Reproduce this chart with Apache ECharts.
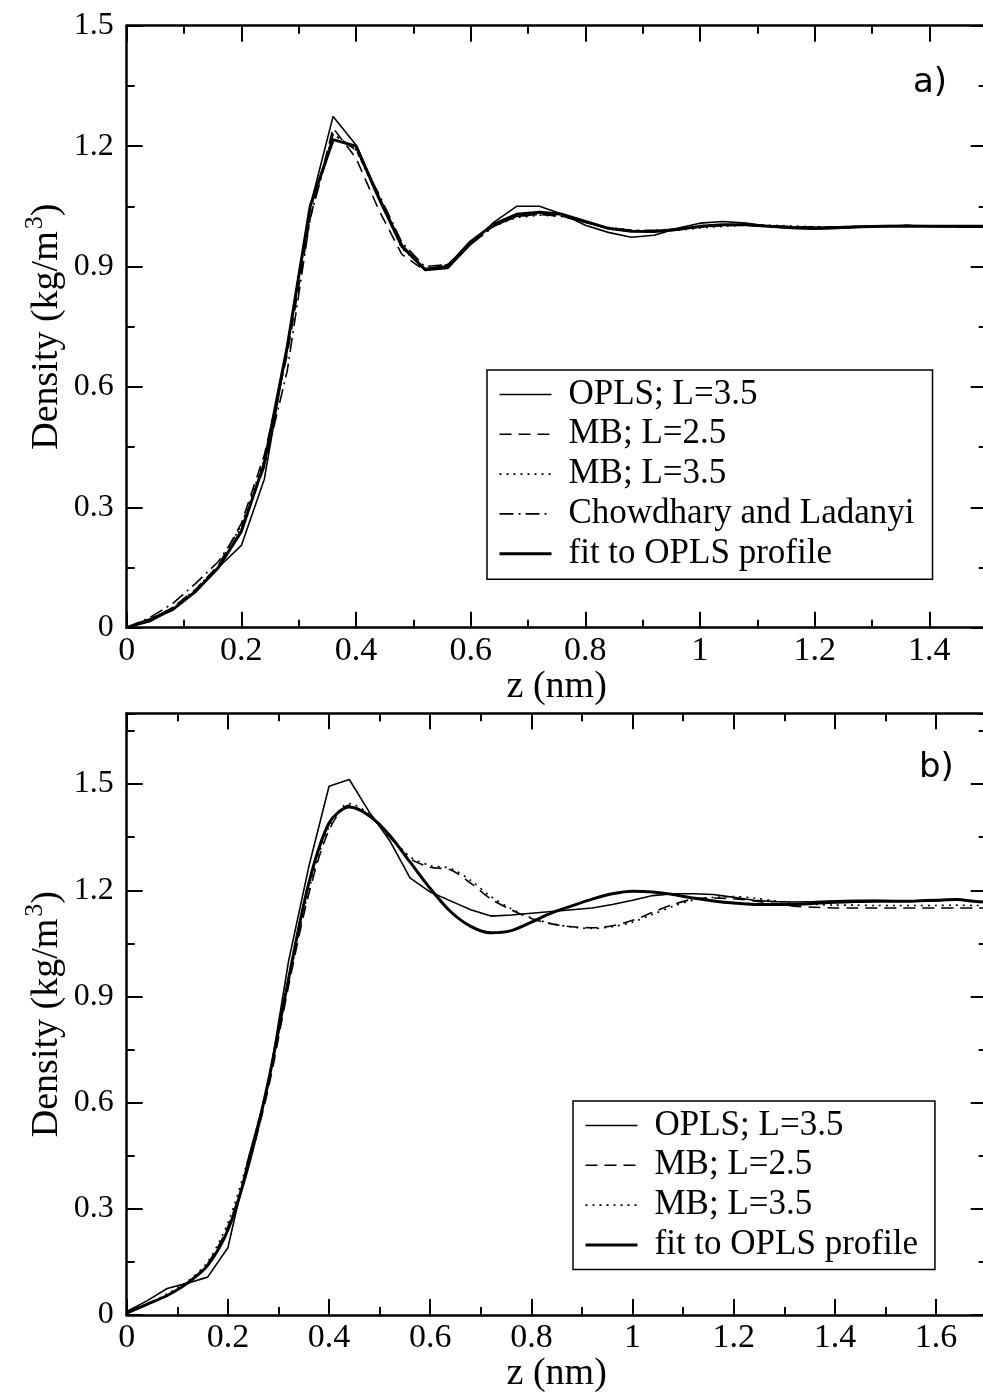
<!DOCTYPE html>
<html>
<head>
<meta charset="utf-8">
<script src="https://cdn.jsdelivr.net/npm/echarts@6/dist/echarts.min.js"></script>
<style>
html,body{margin:0;padding:0;background:#fff;overflow:hidden;}
#c{width:990px;height:1394px;}
</style>
</head>
<body>
<div id="c"></div>
<script>
// ---------- data ----------
const seriesNames = ['OPLS; L=3.5', 'MB; L=2.5', 'MB; L=3.5', 'Chowdhary and Ladanyi', 'fit to OPLS profile'];

// panel a)
const zTop = [0, 0.04, 0.08, 0.12, 0.16, 0.20, 0.24, 0.28, 0.32, 0.36, 0.40, 0.44, 0.48, 0.52, 0.56, 0.60, 0.64, 0.68, 0.72, 0.76, 0.80, 0.84, 0.88, 0.92, 0.96, 1.00, 1.04, 1.08, 1.12, 1.16, 1.20, 1.24, 1.28, 1.32, 1.36, 1.40, 1.44, 1.48, 1.52];
const oplsTop = [0, 0.015, 0.045, 0.09, 0.15, 0.205, 0.37, 0.70, 1.05, 1.274, 1.203, 1.075, 0.955, 0.89, 0.895, 0.955, 1.01, 1.05, 1.05, 1.03, 1.003, 0.985, 0.973, 0.978, 0.995, 1.008, 1.012, 1.008, 1.0, 0.995, 0.993, 0.995, 0.998, 1.0, 1.002, 1.0, 0.999, 0.998, 0.998];
const mb25Top = [0, 0.02, 0.05, 0.095, 0.155, 0.26, 0.43, 0.68, 1.02, 1.245, 1.17, 1.04, 0.93, 0.89, 0.905, 0.96, 1.0, 1.025, 1.03, 1.025, 1.01, 0.995, 0.988, 0.988, 0.993, 0.998, 1.002, 1.003, 1.0, 0.998, 0.997, 0.998, 1.0, 1.0, 1.002, 1.001, 1.0, 1.0, 1.0];
const mb35Top = [0, 0.02, 0.05, 0.095, 0.155, 0.255, 0.42, 0.69, 1.04, 1.23, 1.19, 1.07, 0.945, 0.893, 0.9, 0.955, 1.0, 1.022, 1.028, 1.025, 1.012, 0.998, 0.99, 0.988, 0.99, 0.996, 1.0, 1.003, 1.003, 1.001, 0.999, 0.998, 0.999, 1.0, 1.001, 1.001, 1.0, 1.0, 1.0];
const clTop = [0, 0.025, 0.06, 0.11, 0.165, 0.25, 0.40, 0.64, 1.02, 1.23, 1.19, 1.08, 0.96, 0.9, 0.905, 0.955, 1.0, 1.025, 1.03, 1.025, 1.01, 0.997, 0.99, 0.99, 0.994, 0.999, 1.003, 1.003, 1.001, 0.999, 0.998, 0.999, 1.0, 1.001, 1.002, 1.0, 1.0, 0.999, 0.999];
const fitTop = [0, 0.02, 0.045, 0.09, 0.15, 0.24, 0.41, 0.70, 1.05, 1.216, 1.2, 1.07, 0.95, 0.893, 0.9, 0.962, 1.005, 1.03, 1.035, 1.03, 1.012, 0.995, 0.988, 0.987, 0.992, 1.0, 1.004, 1.004, 1.0, 0.997, 0.996, 0.997, 0.999, 1.0, 1.001, 1.0, 1.0, 1.0, 1.0];

// panel b)
const zBot = [0, 0.04, 0.08, 0.12, 0.16, 0.20, 0.24, 0.28, 0.32, 0.36, 0.40, 0.44, 0.48, 0.52, 0.56, 0.60, 0.64, 0.68, 0.72, 0.76, 0.80, 0.84, 0.88, 0.92, 0.96, 1.00, 1.04, 1.08, 1.12, 1.16, 1.20, 1.24, 1.28, 1.32, 1.36, 1.40, 1.44, 1.48, 1.52, 1.56, 1.60, 1.64, 1.68, 1.72];
const oplsBot = [0.01, 0.04, 0.075, 0.09, 0.107, 0.19, 0.44, 0.65, 1.0, 1.267, 1.494, 1.513, 1.42, 1.34, 1.235, 1.195, 1.17, 1.145, 1.127, 1.13, 1.135, 1.14, 1.145, 1.15, 1.16, 1.172, 1.185, 1.19, 1.19, 1.188, 1.18, 1.172, 1.168, 1.167, 1.168, 1.17, 1.172, 1.172, 1.17, 1.17, 1.17, 1.175, 1.168, 1.165];
const mb25Bot = [0.01, 0.03, 0.055, 0.09, 0.145, 0.25, 0.42, 0.64, 0.93, 1.19, 1.37, 1.44, 1.41, 1.35, 1.29, 1.265, 1.258, 1.22, 1.175, 1.145, 1.12, 1.105, 1.097, 1.094, 1.1, 1.115, 1.138, 1.16, 1.175, 1.178, 1.176, 1.17, 1.162, 1.155, 1.152, 1.15, 1.15, 1.15, 1.15, 1.15, 1.15, 1.15, 1.15, 1.15];
const mb35Bot = [0.01, 0.03, 0.06, 0.095, 0.15, 0.26, 0.44, 0.66, 0.94, 1.2, 1.38, 1.445, 1.415, 1.355, 1.295, 1.27, 1.262, 1.228, 1.182, 1.148, 1.122, 1.106, 1.096, 1.092, 1.097, 1.11, 1.132, 1.155, 1.172, 1.18, 1.182, 1.178, 1.17, 1.163, 1.16, 1.158, 1.158, 1.157, 1.157, 1.157, 1.157, 1.158, 1.157, 1.157];
const fitBot = [0.005, 0.03, 0.055, 0.09, 0.14, 0.24, 0.42, 0.66, 0.95, 1.22, 1.39, 1.435, 1.41, 1.355, 1.28, 1.205, 1.14, 1.098, 1.08, 1.086, 1.11, 1.136, 1.156, 1.175, 1.19, 1.197, 1.195, 1.188, 1.178, 1.17, 1.164, 1.16, 1.16, 1.16, 1.163, 1.166, 1.168, 1.169, 1.169, 1.17, 1.172, 1.174, 1.168, 1.165];

// tick labels
const xTicksTop = [0, 0.2, 0.4, 0.6, 0.8, 1, 1.2, 1.4];
const xTicksBot = [0, 0.2, 0.4, 0.6, 0.8, 1, 1.2, 1.4, 1.6];
const yTicks = [0, 0.3, 0.6, 0.9, 1.2, 1.5];

// ---------- styling ----------
const SERIF = 'Liberation Serif';
const styles = {
  'OPLS; L=3.5': {width: 1.6, type: 'solid'},
  'MB; L=2.5': {width: 1.6, type: [12, 7]},
  'MB; L=3.5': {width: 1.6, type: [2, 5]},
  'Chowdhary and Ladanyi': {width: 1.6, type: [14, 5, 2, 5]},
  'fit to OPLS profile': {width: 3, type: 'solid'}
};

function xAxes(grid, max, majors) {
  const common = {gridIndex: grid, type: 'value', min: 0, max: max, splitLine: {show: false}};
  return [
    Object.assign({}, common, {
      position: 'bottom', interval: 0.2,
      axisLine: {show: true, onZero: false, lineStyle: {color: '#000', width: 2.5}},
      axisTick: {show: true, inside: true, length: 16, customValues: majors, lineStyle: {color: '#000', width: 2}},
      axisLabel: {show: true, customValues: majors, margin: 6, color: '#000', fontFamily: SERIF, fontSize: 34},
      name: 'z (nm)', nameLocation: 'middle', nameGap: 40, nameMoveOverlap: false,
      nameTextStyle: {color: '#000', fontFamily: SERIF, fontSize: 38}
    }),
    Object.assign({}, common, {
      position: 'top', interval: 0.2,
      axisLine: {show: true, onZero: false, lineStyle: {color: '#000', width: 2.5}},
      axisTick: {show: true, inside: true, length: 16, customValues: majors, lineStyle: {color: '#000', width: 2}},
      axisLabel: {show: false}
    }),
    Object.assign({}, common, {
      position: 'bottom', interval: 0.1,
      axisLine: {show: false, onZero: false},
      axisTick: {show: true, inside: true, length: 8, lineStyle: {color: '#000', width: 2}},
      axisLabel: {show: false}
    }),
    Object.assign({}, common, {
      position: 'top', interval: 0.1,
      axisLine: {show: false, onZero: false},
      axisTick: {show: true, inside: true, length: 8, lineStyle: {color: '#000', width: 2}},
      axisLabel: {show: false}
    })
  ];
}

function yAxes(grid, max, majors) {
  const common = {gridIndex: grid, type: 'value', min: 0, max: max, splitLine: {show: false}};
  return [
    Object.assign({}, common, {
      position: 'left', interval: 0.3,
      axisLine: {show: true, onZero: false, lineStyle: {color: '#000', width: 2.5}},
      axisTick: {show: true, inside: true, length: 16, customValues: majors, lineStyle: {color: '#000', width: 2}},
      axisLabel: {show: true, customValues: majors, margin: 13, color: '#000', fontFamily: SERIF, fontSize: 32},
      name: '{n|Density (kg/m}{s|3}{n|)}', nameLocation: 'middle', nameGap: 60, nameRotate: 90, nameMoveOverlap: false,
      nameTextStyle: {
        color: '#000', fontFamily: SERIF, fontSize: 38,
        rich: {
          n: {fontFamily: SERIF, fontSize: 38, color: '#000', lineHeight: 40},
          s: {fontFamily: SERIF, fontSize: 26, color: '#000', lineHeight: 40, padding: [0, 0, 24, 2]}
        }
      }
    }),
    Object.assign({}, common, {
      position: 'right', interval: 0.3,
      axisLine: {show: true, onZero: false, lineStyle: {color: '#000', width: 2.5}},
      axisTick: {show: true, inside: true, length: 16, customValues: majors, lineStyle: {color: '#000', width: 2}},
      axisLabel: {show: false}
    }),
    Object.assign({}, common, {
      position: 'left', interval: 0.15,
      axisLine: {show: false, onZero: false},
      axisTick: {show: true, inside: true, length: 8, lineStyle: {color: '#000', width: 2}},
      axisLabel: {show: false}
    }),
    Object.assign({}, common, {
      position: 'right', interval: 0.15,
      axisLine: {show: false, onZero: false},
      axisTick: {show: true, inside: true, length: 8, lineStyle: {color: '#000', width: 2}},
      axisLabel: {show: false}
    })
  ];
}

function lineSeries(name, zs, vals, grid, smooth) {
  const st = styles[name];
  return {
    name: name, type: 'line',
    xAxisIndex: grid * 4, yAxisIndex: grid * 4,
    data: zs.map((z, i) => [z, vals[i]]),
    showSymbol: false, symbol: 'none', smooth: smooth || false,
    clip: true, silent: true,
    lineStyle: {color: '#000', width: st.width, type: st.type},
    itemStyle: {color: '#000'},
    emphasis: {disabled: true}
  };
}

const legendCommon = {
  orient: 'vertical', itemWidth: 52, itemHeight: 14, itemGap: 4.8,
  borderColor: '#000', borderWidth: 1.5, selectedMode: false,
  itemStyle: {opacity: 0},
  lineStyle: {width: 'inherit', type: 'inherit', color: 'inherit'},
  textStyle: {color: '#000', fontFamily: SERIF, fontSize: 35, lineHeight: 34, padding: [0, 0, 0, 12]}
};

const option = {
  animation: false,
  backgroundColor: '#fff',
  grid: [
    {left: 126.7, top: 25.7, width: 860, height: 602, containLabel: false},
    {left: 126.7, top: 713.3, width: 860, height: 604, containLabel: false}
  ],
  title: [
    {text: 'a)', left: 913, top: 66, textStyle: {fontFamily: 'DejaVu Sans', fontSize: 34, fontWeight: 'normal', color: '#000'}, padding: 0},
    {text: 'b)', left: 919, top: 751, textStyle: {fontFamily: 'DejaVu Sans', fontSize: 34, fontWeight: 'normal', color: '#000'}, padding: 0}
  ],
  legend: [
    Object.assign({}, legendCommon, {data: seriesNames, left: 487, top: 370, padding: [7, 18, 8, 11]}),
    Object.assign({}, legendCommon, {data: ['OPLS; L=3.5', 'MB; L=2.5', 'MB; L=3.5', 'fit to OPLS profile'], left: 573, top: 1101, padding: [7, 17, 7, 11]})
  ],
  xAxis: xAxes(0, 1.5, xTicksTop).concat(xAxes(1, 1.7, xTicksBot)),
  yAxis: yAxes(0, 1.5, yTicks).concat(yAxes(1, 1.7, yTicks)),
  series: [
    lineSeries('OPLS; L=3.5', zTop, oplsTop, 0),
    lineSeries('MB; L=2.5', zTop, mb25Top, 0),
    lineSeries('MB; L=3.5', zTop, mb35Top, 0),
    lineSeries('Chowdhary and Ladanyi', zTop, clTop, 0),
    lineSeries('fit to OPLS profile', zTop, fitTop, 0),
    lineSeries('OPLS; L=3.5', zBot, oplsBot, 1),
    lineSeries('MB; L=2.5', zBot, mb25Bot, 1, 0.3),
    lineSeries('MB; L=3.5', zBot, mb35Bot, 1, 0.3),
    lineSeries('fit to OPLS profile', zBot, fitBot, 1, 0.3)
  ]
};

const chart = echarts.init(document.getElementById('c'), null, {renderer: 'canvas'});
chart.setOption(option);
</script>
</body>
</html>
